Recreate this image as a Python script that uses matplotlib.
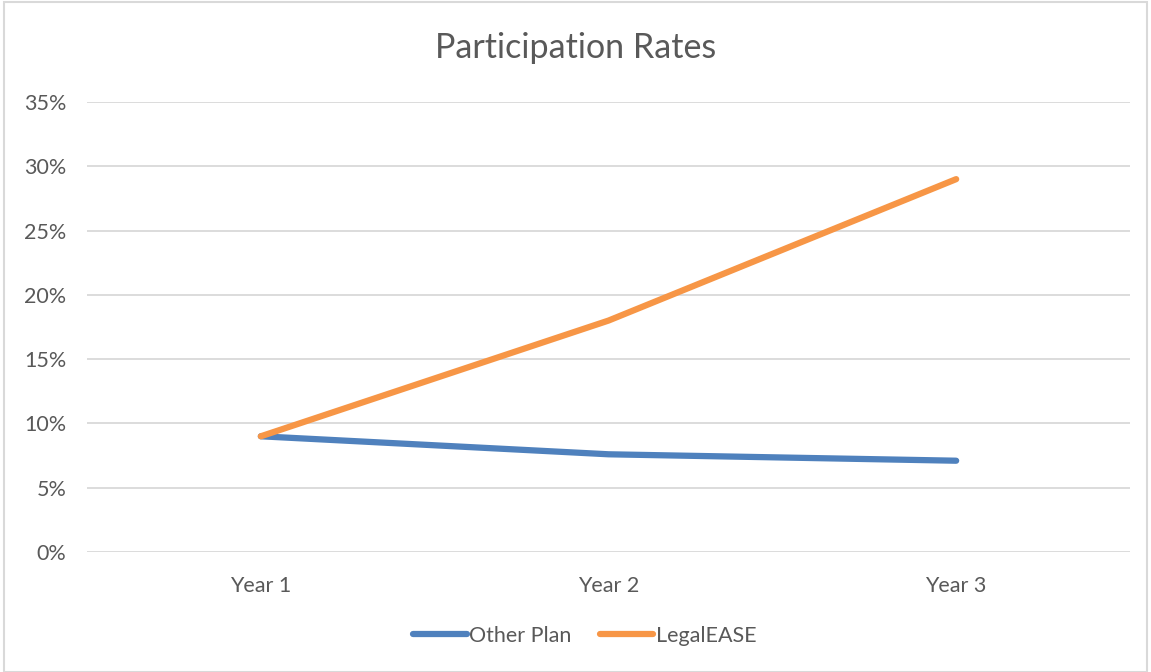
import matplotlib.pyplot as plt
from matplotlib.patches import Rectangle
from matplotlib.ticker import PercentFormatter

years = ['Year 1', 'Year 2', 'Year 3']
other_plan = [0.09, 0.076, 0.071]
legalease = [0.09, 0.18, 0.29]

text_color = '#595959'
plt.rcParams['font.family'] = ['Lato', 'DejaVu Sans']

fig = plt.figure(figsize=(11.51, 6.72), dpi=100)
ax = fig.add_axes([87 / 1151, 1 - 552 / 672, (1130 - 87) / 1151, 450 / 672])

x = range(len(years))
ax.plot(x, other_plan, color='#4F81BD', lw=4.5, solid_capstyle='round',
        solid_joinstyle='round', label='Other Plan')
ax.plot(x, legalease, color='#F79646', lw=4.5, solid_capstyle='round',
        solid_joinstyle='round', label='LegalEASE')

ax.set_xlim(-0.5, 2.5)
ax.set_ylim(0, 0.35)
ax.set_yticks([i * 0.05 for i in range(8)])
ax.yaxis.set_major_formatter(PercentFormatter(1.0, decimals=0))
ax.set_xticks(list(x))
ax.set_xticklabels(years)
ax.grid(axis='y', color='#D9D9D9', lw=1.3)
ax.set_axisbelow(True)
for s in ax.spines.values():
    s.set_visible(False)
ax.tick_params(length=0, labelsize=15.5, colors=text_color)
ax.tick_params(axis='y', pad=15)
ax.tick_params(axis='x', pad=17)

fig.text(0.5, 1 - 48 / 672, 'Participation Rates', ha='center', va='center',
         fontsize=24.5, color=text_color)

fig.legend(loc='center', bbox_to_anchor=(0.508, 1 - 636 / 672), ncol=2,
           frameon=False, fontsize=15.5, labelcolor=text_color,
           handlelength=2.5, handletextpad=0.1, columnspacing=1.3)

fig.patches.append(Rectangle((4 / 1151, 0), 1 - 8 / 1151, 1 - 2 / 672,
                             transform=fig.transFigure, fill=False,
                             edgecolor='#D9D9D9', lw=1.5))

fig.savefig('out.png', dpi=100)
